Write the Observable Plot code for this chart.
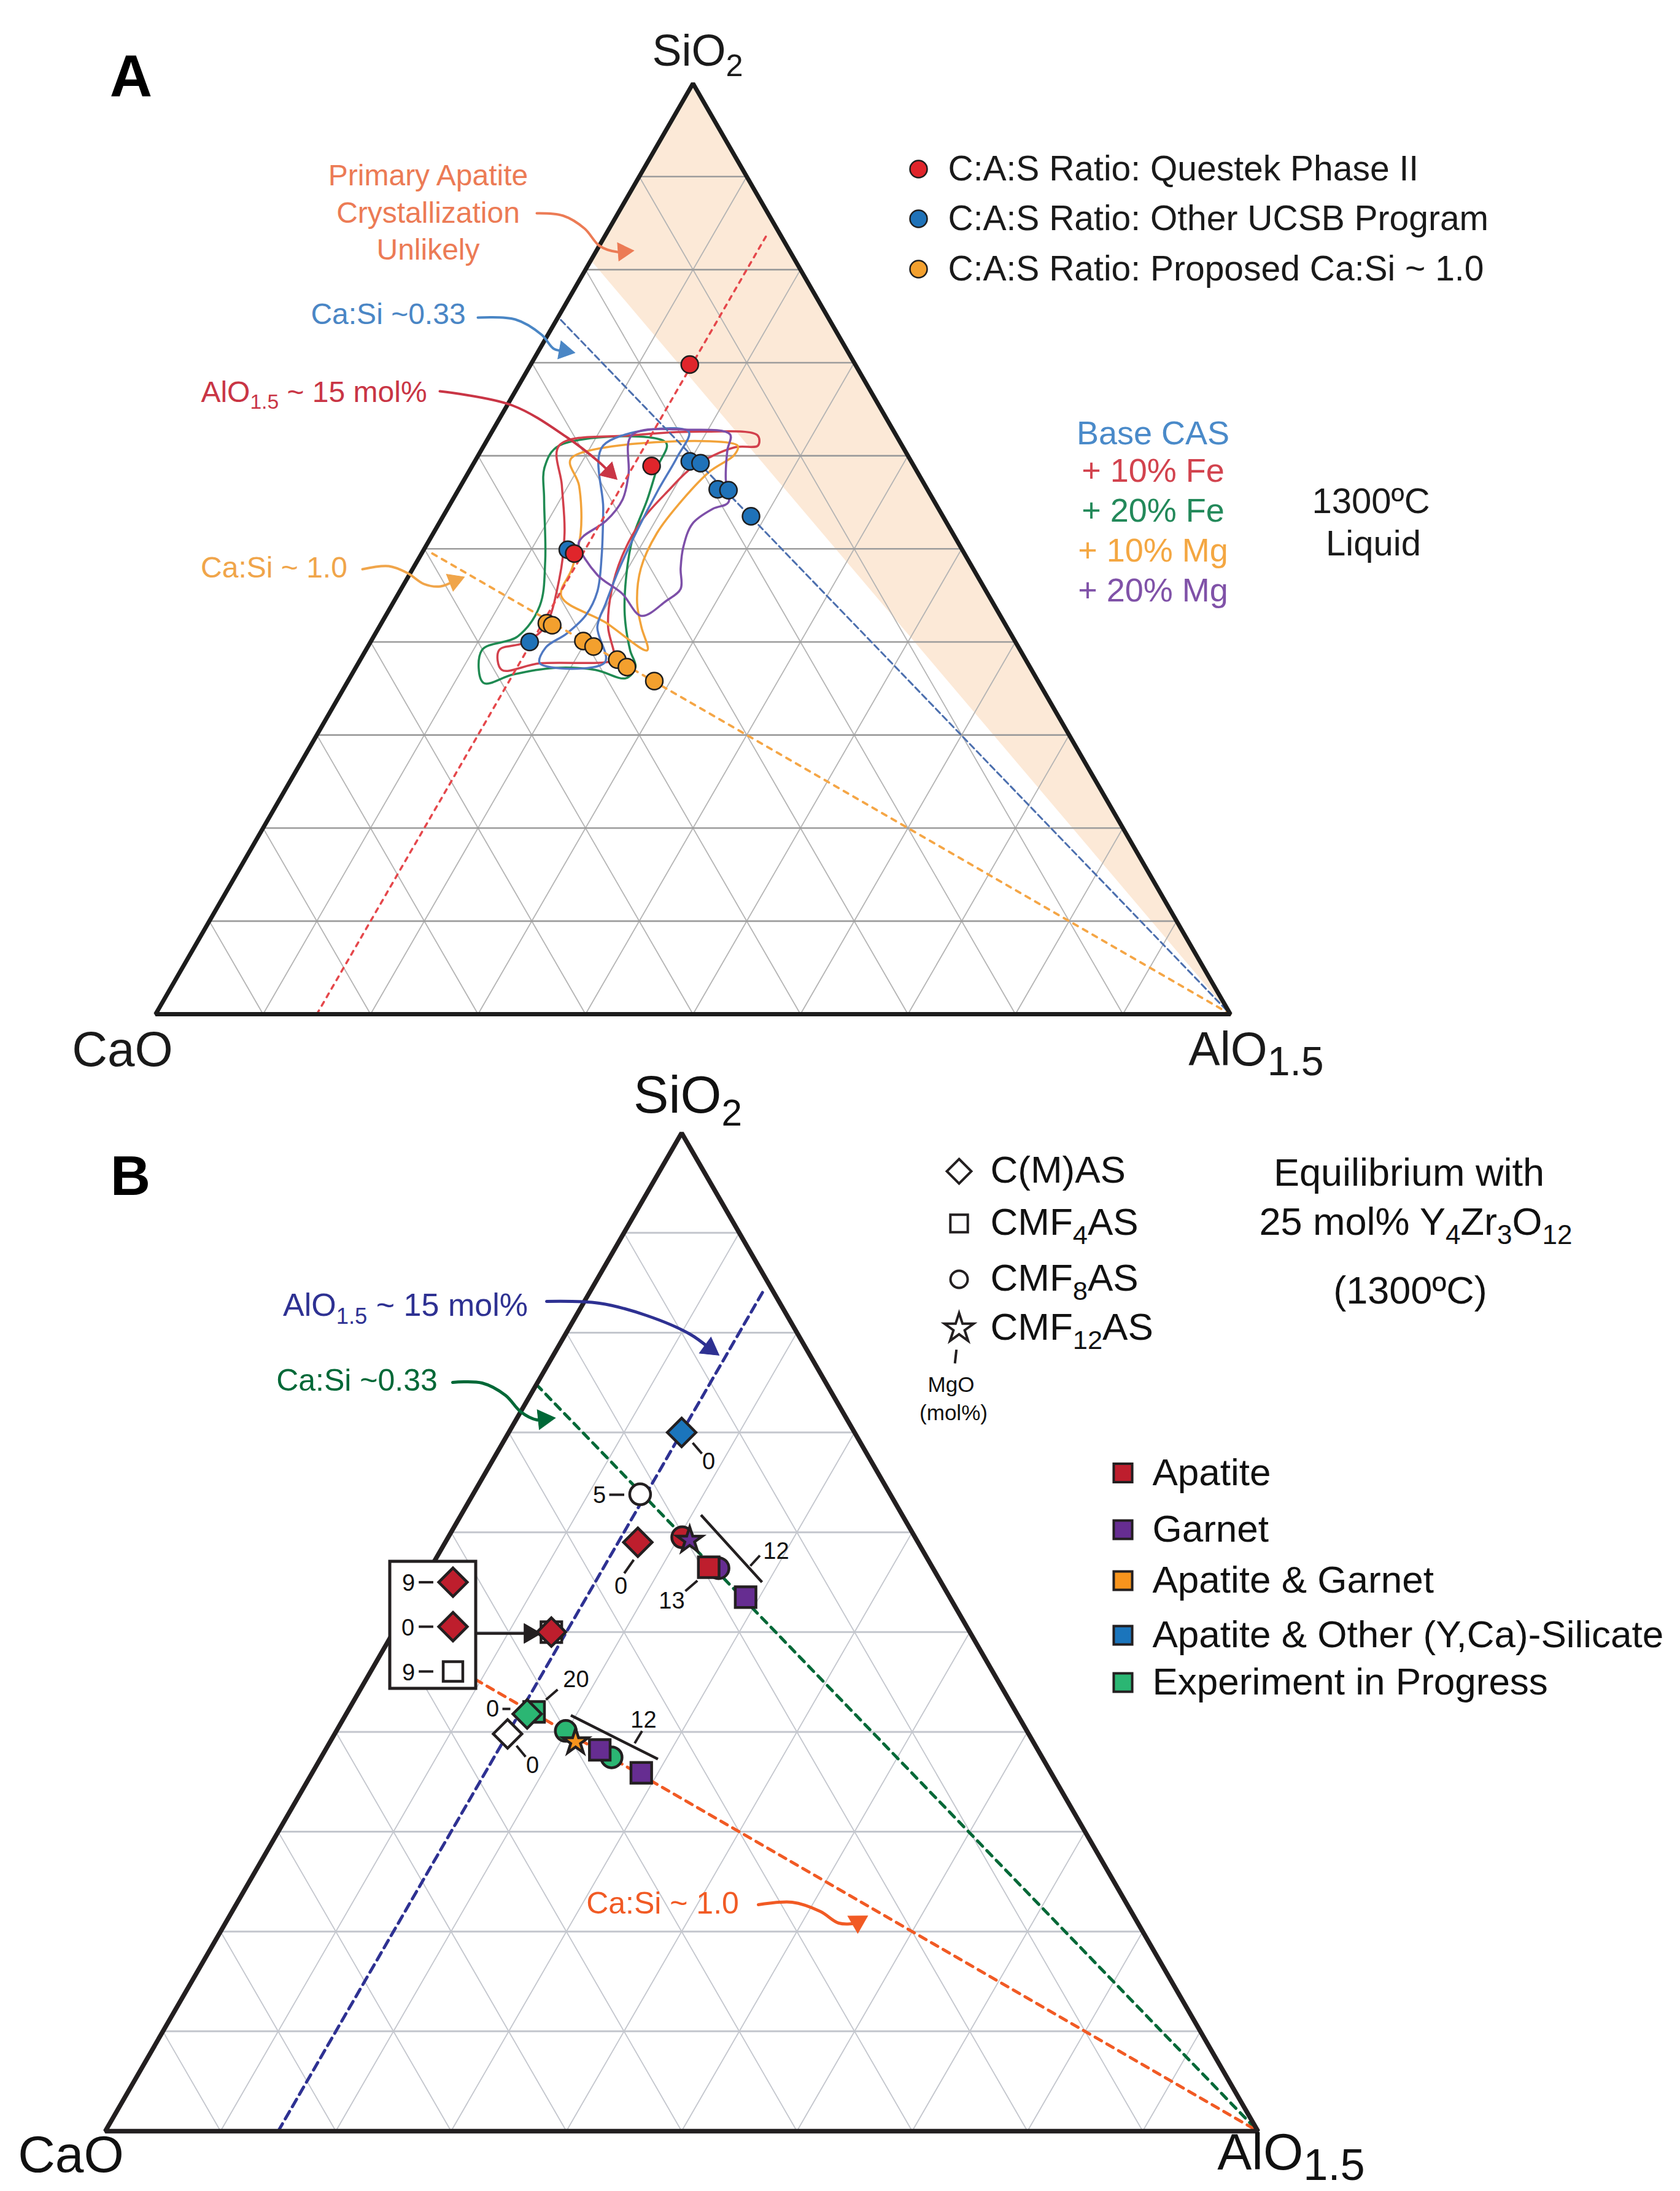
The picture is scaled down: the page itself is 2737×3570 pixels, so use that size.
<!DOCTYPE html>
<html><head><meta charset="utf-8">
<script src="https://cdn.jsdelivr.net/npm/d3@7"></script>
<script src="https://cdn.jsdelivr.net/npm/@observablehq/plot@0.6"></script>
<style>
html,body{margin:0;padding:0;background:#fff;}
#fig{position:relative;width:2737px;height:3570px;overflow:hidden;background:#fff;}
#fig svg{position:absolute;left:0;overflow:visible;}
</style></head><body><div id="fig"></div>
<script>
// ================= DATA =================
const gridTicks = [10, 20, 30, 40, 50, 60, 70, 80, 90];

// ---- Panel A : points (mol% AlO1.5, mol% SiO2; CaO = remainder)
const aQuestekAl = [14.8, 16.7, 14.2];
const aQuestekSi = [69.8, 58.9, 49.5];
const aUcsbAl = [20.0, 21.1, 24.1, 25.15, 28.65, 13.4, 14.8];
const aUcsbSi = [59.4, 59.2, 56.4, 56.3, 53.5, 49.9, 40.0];
const aPropAl = [15.4, 16.0, 19.75, 21.0, 23.9, 25.2, 28.5];
const aPropSi = [42.0, 41.8, 40.1, 39.5, 38.1, 37.3, 35.8];
const aLegendText = ["C:A:S Ratio: Questek Phase II", "C:A:S Ratio: Other UCSB Program", "C:A:S Ratio: Proposed Ca:Si ~ 1.0"];
const aLegendColor = ["#e0252b", "#1f72b8", "#f3a02e"];

// ---- Panel A : 1300 C liquid field outlines
const contourNames = ["Base CAS", "+ 10% Fe", "+ 20% Fe", "+ 10% Mg", "+ 20% Mg"];
const contourColors = ["#4f78c2", "#d2404c", "#1f8a52", "#f2a33a", "#7d4fa8"];
const contourTextColors = ["#4a8ac9", "#d2434e", "#23895a", "#f4a742", "#8052a8"];
const baseAl = [11.1, 18.3, 18.6, 18.6, 18.8, 19.2, 19.8, 20.3, 22.9, 16.9, 16.6, 17.8, 18.6, 18.4, 16.9, 14.5];
const baseSi = [61.1, 62.6, 59.8, 56.3, 52.2, 47.9, 44.2, 41.6, 37.8, 37.7, 39.4, 40.9, 42.9, 45.4, 49.2, 54.3];
const fe10Al = [7.0, 13.2, 19.7, 24.9, 25.5, 23.4, 20.6, 19.6, 18.7, 18.8, 19.7, 21.3, 23.6, 22.9, 16.9, 13.7, 12.4, 14.3, 15.4, 14.2, 12.2, 9.4];
const fe10Si = [61.1, 62.2, 62.6, 62.2, 61.1, 60.9, 58.8, 56.3, 53.0, 49.2, 45.4, 41.6, 38.1, 37.8, 37.7, 37.0, 39.1, 39.9, 41.6, 46.7, 51.7, 56.8];
const fe20Al = [7.0, 16.8, 17.3, 18.1, 18.8, 20.2, 22.2, 24.6, 26.0, 25.7, 22.4, 18.4, 15.0, 12.7, 10.8, 13.4, 13.8, 11.9, 8.5, 6.8];
const fe20Si = [61.1, 61.4, 58.8, 55.3, 51.2, 47.2, 42.9, 39.1, 37.3, 36.1, 37.0, 37.2, 36.5, 35.6, 39.1, 40.6, 43.9, 48.7, 55.3, 58.8];
const mg10Al = [8.8, 23.6, 23.8, 22.4, 21.4, 20.8, 21.2, 22.7, 24.4, 26.2, 20.8, 15.3, 14.8, 13.7, 11.0];
const mg10Si = [59.7, 61.1, 60.1, 58.3, 55.3, 51.7, 47.9, 44.2, 41.6, 39.1, 42.1, 44.9, 47.9, 51.7, 56.8];
const mg20Al = [13.2, 18.2, 22.3, 22.9, 24.3, 25.8, 24.7, 23.6, 24.0, 24.9, 26.0, 25.3, 23.8, 20.8, 17.5, 14.1, 14.1, 15.4, 15.8, 15.0];
const mg20Si = [62.2, 62.8, 62.3, 60.6, 57.5, 55.0, 54.3, 52.7, 50.2, 47.9, 45.7, 44.4, 42.8, 45.2, 47.2, 50.5, 51.3, 53.0, 55.3, 58.0];

// ---- Panel B : experiments
const phaseNames = ["Apatite", "Garnet", "Apatite & Garnet", "Apatite & Other (Y,Ca)-Silicate", "Experiment in Progress", "none"];
const phaseColors = ["#be1e2d", "#662d91", "#f7941d", "#1b75bc", "#2bb673", "#ffffff"];
const compNames = ["C(M)AS", "CMF4AS", "CMF8AS", "CMF12AS"];
const compLabels = ["C(M)AS", "CMF_{4}AS", "CMF_{8}AS", "CMF_{12}AS"];
const compSymbols = ["diamond2", "square", "circle", "star"];
const compR = [21, 19, 17, 13];
const bComp = ["C(M)AS", "CMF8AS", "C(M)AS", "CMF8AS", "CMF12AS", "CMF8AS", "CMF4AS", "CMF4AS", "CMF4AS",
  "C(M)AS", "CMF4AS", "C(M)AS", "C(M)AS", "CMF8AS", "CMF12AS", "CMF8AS", "CMF4AS", "CMF4AS"];
const bPhase = ["Apatite & Other (Y,Ca)-Silicate", "none", "Apatite", "Apatite", "Garnet", "Garnet", "Apatite", "Garnet", "none",
  "Apatite", "Experiment in Progress", "Experiment in Progress", "none", "Experiment in Progress", "Apatite & Garnet",
  "Experiment in Progress", "Garnet", "Garnet"];
const bAl = [15.0, 14.5, 16.7, 20.3, 21.1, 25.0, 24.1, 28.8, 13.7, 13.7, 16.2, 15.7, 15.0, 19.9, 21.3, 25.2, 23.8, 28.55];
const bSi = [70.0, 63.8, 59.0, 59.5, 59.2, 56.4, 56.5, 53.5, 50.0, 50.0, 42.0, 41.8, 39.8, 40.1, 39.0, 37.45, 38.2, 35.9];

// ================= FRAME HELPERS =================
const W = 2737;
const H3 = Math.sqrt(3) / 2;
function panel(top, H, X0, Y0g, L) {
  const Y0 = Y0g - top;
  return {
    top, H,
    t: (al, si) => ({x: (al + si / 2) / 100, y: (si / 100) * H3}),
    p: (X, Y) => ({x: (X - X0) / L, y: (Y0g - Y) / L}),
    xd: [-X0 / L, (W - X0) / L],
    yd: [(Y0 - H) / L, Y0 / L]
  };
}
const PA = panel(0, 1740, 253, 1652, 1751);
const PB = panel(1740, 1830, 171, 3472, 1878);
const FONT = "Liberation Sans, Arial, Helvetica, sans-serif";
const NARROW = "Liberation Sans Narrow, Arial Narrow, Liberation Sans, sans-serif";

function txt(P, items, opts) {
  return Plot.text(items.map(([s, X, Y]) => ({s, ...P.p(X, Y)})), {x: "x", y: "y", text: "s", fontFamily: FONT, ...opts});
}
function segs(P, list, opts) {
  return Plot.link(list.map(([X1, Y1, X2, Y2]) => {
    const a = P.p(X1, Y1), b = P.p(X2, Y2);
    return {x1: a.x, y1: a.y, x2: b.x, y2: b.y};
  }), {x1: "x1", y1: "y1", x2: "x2", y2: "y2", ...opts});
}
function arrow(P, pts, color, sw, hr) {
  const [xa, ya] = pts[pts.length - 2], [xb, yb] = pts[pts.length - 1];
  const dx = xb - xa, dy = yb - ya, len = Math.hypot(dx, dy);
  const off = 1.45 * hr;
  const cX = xb - dx / len * off, cY = yb - dy / len * off;
  const line = pts.slice(0, -1).concat([[cX, cY]]).map(([X, Y]) => P.p(X, Y));
  const ang = Math.atan2(dx, -dy) * 180 / Math.PI;
  return [
    Plot.line(line, {x: "x", y: "y", stroke: color, strokeWidth: sw, curve: "catmull-rom", strokeLinecap: "round"}),
    Plot.dot([P.p(cX, cY)], {x: "x", y: "y", r: hr, symbol: "triangle", fill: color, stroke: color, strokeWidth: 1, rotate: ang})
  ];
}
function grid(P) {
  const out = {s: [], o: []};
  for (const k of gridTicks) {
    const e = (a, b) => ({x1: a.x, y1: a.y, x2: b.x, y2: b.y});
    out.s.push(e(P.t(0, k), P.t(100 - k, k)));
    out.o.push(e(P.t(k, 0), P.t(k, 100 - k)));
    out.o.push(e(P.t(100 - k, 0), P.t(0, 100 - k)));
  }
  return out;
}
const triangle = P => [P.t(0, 0), P.t(100, 0), P.t(0, 100)];

function makePlot(P, marks) {
  return Plot.plot({
    width: W, height: P.H, margin: 0,
    x: {domain: P.xd, axis: null},
    y: {domain: P.yd, axis: null},
    style: {background: "none", overflow: "visible", fontFamily: FONT},
    marks
  });
}

// ================= PANEL A =================
const gA = grid(PA);
const contours = [
  [fe20Al, fe20Si, 2], [fe10Al, fe10Si, 1], [mg10Al, mg10Si, 3], [baseAl, baseSi, 0], [mg20Al, mg20Si, 4]
];
const legAY = [275, 356, 438];
const contourY = [706, 767, 832, 897, 962];
const marksA = [
  Plot.line([PA.t(0, 100), PA.t(0, 81), PA.t(100, 0)], {x: "x", y: "y", curve: "linear-closed", fill: "#fce9d7", stroke: "none"}),
  Plot.link(gA.o, {x1: "x1", y1: "y1", x2: "x2", y2: "y2", stroke: "#b4b4b4", strokeWidth: 1.8}),
  Plot.link(gA.s, {x1: "x1", y1: "y1", x2: "x2", y2: "y2", stroke: "#9c9c9c", strokeWidth: 2.6}),
  ...contours.map(([al, si, ci]) => Plot.line(al.map((a, i) => PA.t(a, si[i])),
    {x: "x", y: "y", curve: "catmull-rom-closed", stroke: contourColors[ci], strokeWidth: 3.5, fill: "none"})),
  Plot.line([PA.t(15, 0), PA.t(15, 84)], {x: "x", y: "y", stroke: "#e5474b", strokeWidth: 3.5, strokeDasharray: "7,9"}),
  Plot.line([PA.t(0.4, 74.6), PA.t(100, 0)], {x: "x", y: "y", stroke: "#4c6fae", strokeWidth: 3, strokeDasharray: "10,6"}),
  Plot.line([PA.t(1, 49.5), PA.t(100, 0)], {x: "x", y: "y", stroke: "#f5a646", strokeWidth: 4, strokeDasharray: "8,10"}),
  Plot.line(triangle(PA), {x: "x", y: "y", curve: "linear-closed", stroke: "#1c1c1c", strokeWidth: 7, strokeLinejoin: "miter"}),
  Plot.dot(aUcsbAl.map((a, i) => PA.t(a, aUcsbSi[i])), {x: "x", y: "y", r: 14, fill: aLegendColor[1], stroke: "#1e1e1e", strokeWidth: 2.5}),
  Plot.dot(aPropAl.map((a, i) => PA.t(a, aPropSi[i])), {x: "x", y: "y", r: 14, fill: aLegendColor[2], stroke: "#1e1e1e", strokeWidth: 2.5}),
  Plot.dot(aQuestekAl.map((a, i) => PA.t(a, aQuestekSi[i])), {x: "x", y: "y", r: 14, fill: aLegendColor[0], stroke: "#1e1e1e", strokeWidth: 2.5}),
  ...arrow(PA, [[874, 347], [917, 351], [952, 372], [976, 400], [1005, 410], [1031, 408]], "#ec7b55", 4, 11),
  ...arrow(PA, [[778, 517], [839, 520], [882, 545], [902, 568], [935, 574]], "#4a86c5", 4, 11),
  ...arrow(PA, [[716, 637], [834, 660], [923, 712], [975, 752], [1004, 780]], "#c93545", 4, 11),
  ...arrow(PA, [[590, 927], [633, 922], [663, 933], [690, 951], [717, 955], [755, 940]], "#f0a54a", 4, 11),
  txt(PA, [["A", 213, 126]], {fontSize: 96, fontWeight: "bold", fontFamily: NARROW, fill: "#000"}),
  txt(PA, [["SiO_{2}", 1136, 83]], {fontSize: 72, fill: "#1a1a1a"}),
  txt(PA, [["CaO", 199, 1711]], {fontSize: 80, fill: "#1a1a1a"}),
  txt(PA, [["AlO_[1.5]", 2046, 1711]], {fontSize: 77, fill: "#1a1a1a"}),
  txt(PA, [["Primary Apatite", 697, 286], ["Crystallization", 697, 347], ["Unlikely", 697, 407]], {fontSize: 48, fill: "#ec7b55"}),
  txt(PA, [["Ca:Si ~0.33", 632, 512]], {fontSize: 48, fill: "#4a86c5"}),
  txt(PA, [["AlO_{1.5} ~ 15 mol%", 511, 639]], {fontSize: 48, fill: "#c93545"}),
  txt(PA, [["Ca:Si ~ 1.0", 446, 925]], {fontSize: 48, fill: "#f0a54a"}),
  Plot.dot(legAY.map((Y, i) => ({...PA.p(1496, Y), c: aLegendColor[i]})),
    {x: "x", y: "y", r: 14, fill: "c", stroke: "#1e1e1e", strokeWidth: 2.5}),
  txt(PA, aLegendText.map((s, i) => [s, 1544, legAY[i]]), {fontSize: 57, textAnchor: "start", fill: "#1a1a1a"}),
  Plot.text(contourNames.map((s, i) => ({s, c: contourTextColors[i], ...PA.p(1878, contourY[i])})),
    {x: "x", y: "y", text: "s", fill: "c", fontSize: 54, fontFamily: FONT}),
  txt(PA, [["1300ºC", 2233, 817], ["Liquid", 2237, 886]], {fontSize: 58, fill: "#1a1a1a"})
];

// ================= PANEL B =================
const gB = grid(PB);
const bData = bAl.map((a, i) => ({...PB.t(a, bSi[i]), comp: bComp[i], fillc: phaseColors[phaseNames.indexOf(bPhase[i])]}));
const symOrder = ["CMF8AS", "CMF4AS", "C(M)AS", "CMF12AS"];
const STK = "#231f20";
const legCompY = [1908, 1993, 2084, 2164];
const legPhaseY = [2399.5, 2492, 2575, 2664, 2741];
const marksB = [
  Plot.link(gB.o, {x1: "x1", y1: "y1", x2: "x2", y2: "y2", stroke: "#c3c6cd", strokeWidth: 1.8}),
  Plot.link(gB.s, {x1: "x1", y1: "y1", x2: "x2", y2: "y2", stroke: "#c3c6cd", strokeWidth: 3}),
  Plot.line([PB.t(15, 0), PB.t(15, 84.5)], {x: "x", y: "y", stroke: "#2e3192", strokeWidth: 5, strokeDasharray: "14,9"}),
  Plot.line([PB.t(0, 74.8), PB.t(100, 0)], {x: "x", y: "y", stroke: "#006837", strokeWidth: 5, strokeDasharray: "12,10"}),
  Plot.line([PB.t(0, 50), PB.t(100, 0)], {x: "x", y: "y", stroke: "#f15a24", strokeWidth: 5, strokeDasharray: "12,10"}),
  Plot.line(triangle(PB), {x: "x", y: "y", curve: "linear-closed", stroke: STK, strokeWidth: 7.5, strokeLinejoin: "miter"}),
  Plot.rect([{a: PB.p(635, 2544), b: PB.p(775, 2751)}], {x1: d => d.a.x, x2: d => d.b.x, y1: d => d.a.y, y2: d => d.b.y, fill: "white", stroke: STK, strokeWidth: 5}),
  // brackets and MgO ticks
  segs(PB, [[1141.5, 2468, 1241, 2577.6], [929.5, 2794.4, 1071.4, 2865.8]], {stroke: STK, strokeWidth: 4.5}),
  segs(PB, [[1128, 2350.5, 1143, 2368], [992, 2435, 1016.5, 2435], [1016.5, 2563, 1032, 2541], [1116, 2592, 1135.7, 2575],
    [1221.9, 2551, 1237.5, 2534], [818, 2784, 831, 2784], [889, 2769, 908, 2752.6], [841, 2844, 855.8, 2862],
    [1033.5, 2840, 1045.5, 2820], [681.7, 2577.6, 705.4, 2577.6], [681.7, 2650, 705.4, 2650], [681.7, 2723, 705.4, 2723],
    [1557.7, 2198.6, 1555.2, 2221]], {stroke: STK, strokeWidth: 4}),
  ...arrow(PB, [[775, 2661], [880, 2661]], STK, 4.5, 12),
  ...symOrder.map(c => {
    const k = compNames.indexOf(c);
    return Plot.dot(bData.filter(d => d.comp === c), {x: "x", y: "y", symbol: compSymbols[k], r: compR[k], fill: "fillc", stroke: STK, strokeWidth: 4.5});
  }),
  // inset box glyphs
  Plot.dot([{...PB.p(737.5, 2577.6), f: phaseColors[0]}, {...PB.p(737.5, 2650), f: phaseColors[0]}],
    {x: "x", y: "y", symbol: "diamond2", r: 21, fill: "f", stroke: STK, strokeWidth: 4.5}),
  Plot.dot([PB.p(737.5, 2723)], {x: "x", y: "y", symbol: "square", r: 18, fill: "white", stroke: STK, strokeWidth: 4.5}),
  txt(PB, [["9", 665, 2579], ["0", 664, 2652], ["9", 665, 2725], ["0", 1154, 2381], ["5", 976, 2436], ["0", 1011, 2584],
    ["13", 1094, 2608], ["12", 1264, 2527], ["0", 802, 2784], ["20", 938, 2736], ["0", 867, 2876], ["12", 1048, 2802]],
    {fontSize: 38, fill: "#111"}),
  ...arrow(PB, [[890, 2120], [976, 2123], [1053, 2143], [1123, 2173], [1170, 2207]], "#2e3192", 5, 12),
  ...arrow(PB, [[737, 2252], [785, 2253], [823, 2273], [848, 2300], [874, 2313], [903, 2310]], "#006837", 5, 12),
  ...arrow(PB, [[1235, 3103], [1290, 3099], [1336, 3114], [1366, 3133], [1393, 3133], [1412, 3122]], "#f15a24", 5, 12),
  txt(PB, [["AlO_{1.5} ~ 15 mol%", 660, 2127]], {fontSize: 52, fill: "#2e3192"}),
  txt(PB, [["Ca:Si ~0.33", 581, 2249]], {fontSize: 50, fill: "#006837"}),
  txt(PB, [["Ca:Si ~ 1.0", 1079, 3101]], {fontSize: 50, fill: "#f15a24"}),
  txt(PB, [["B", 212, 1918]], {fontSize: 90, fontWeight: "bold", fontFamily: NARROW, fill: "#000"}),
  txt(PB, [["SiO_{2}", 1120, 1785]], {fontSize: 86, fill: "#111"}),
  txt(PB, [["CaO", 115, 3512]], {fontSize: 84, fill: "#111"}),
  txt(PB, [["AlO_[1.5]", 2103, 3508]], {fontSize: 84, fill: "#111"}),
  // composition legend
  ...compNames.map((c, k) => Plot.dot([PB.p(1562, legCompY[k])],
    {x: "x", y: "y", symbol: compSymbols[k], r: [18, 16, 14, 15][k], fill: "white", stroke: STK, strokeWidth: 4})),
  txt(PB, compLabels.map((s, k) => [s, 1613, legCompY[k] - 1]), {fontSize: 62, textAnchor: "start", fill: "#111"}),
  txt(PB, [["MgO", 1549, 2256], ["(mol%)", 1553, 2302]], {fontSize: 35, fill: "#111"}),
  txt(PB, [["Equilibrium with", 2295, 1911], ["25 mol% Y_{4}Zr_{3}O_{12}", 2306, 1991], ["(1300ºC)", 2297, 2103]], {fontSize: 63, fill: "#111"}),
  // phase legend
  Plot.dot(phaseNames.slice(0, 5).map((p, i) => ({...PB.p(1829, legPhaseY[i]), f: phaseColors[i]})),
    {x: "x", y: "y", symbol: "square", r: 17, fill: "f", stroke: STK, strokeWidth: 4}),
  txt(PB, phaseNames.slice(0, 5).map((p, i) => [p, 1877, legPhaseY[i]]), {fontSize: 62, textAnchor: "start", fill: "#111"})
];

// ================= RENDER =================
const fig = document.getElementById("fig");
function place(svg, top) {
  svg.style.top = top + "px";
  fig.appendChild(svg);
  subscripts(svg);
}
function subscripts(svg) {
  const NS = "http://www.w3.org/2000/svg";
  svg.querySelectorAll("text").forEach(t => {
    const els = t.querySelectorAll("tspan").length ? Array.from(t.querySelectorAll("tspan")) : [t];
    els.forEach(el => {
      const s = el.textContent;
      if (!/_[\{\[]/.test(s)) return;
      const fs = parseFloat(getComputedStyle(el).fontSize) || 40;
      el.textContent = "";
      let down = 0;
      s.split(/(_\{[^}]*\}|_\[[^\]]*\])/).forEach(part => {
        if (!part) return;
        const ts = document.createElementNS(NS, "tspan");
        if (part.startsWith("_{") || part.startsWith("_[")) {
          const big = part.startsWith("_[");
          const sc = big ? 0.86 : 0.7, sh = (big ? 0.2 : 0.24) * fs;
          ts.textContent = part.slice(2, -1);
          ts.setAttribute("font-size", (fs * sc) + "px");
          ts.setAttribute("dy", sh - down);
          down = sh;
        } else {
          ts.textContent = part;
          if (down) { ts.setAttribute("dy", -down); down = 0; }
        }
        el.appendChild(ts);
      });
    });
  });
}
place(makePlot(PA, marksA), PA.top);
place(makePlot(PB, marksB), PB.top);
</script></body></html>
